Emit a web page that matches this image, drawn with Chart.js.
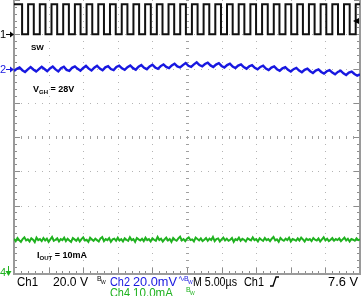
<!DOCTYPE html>
<html>
<head>
<meta charset="utf-8">
<script src="https://cdn.jsdelivr.net/npm/chart.js@4.4.0/dist/chart.umd.min.js"></script>
<style>
html, body { margin: 0; padding: 0; background: #fff; }
#wrap { width: 362px; height: 296px; }
</style>
</head>
<body>
<div id="wrap"><canvas id="scope" width="362" height="296"></canvas></div>
<script>
// ---- scope settings ----
const US_PER_DIV = 5;          // M 5.00us
const CH1_V_PER_DIV = 20;      // Ch1 20.0 V
const CH2_MV_PER_DIV = 20;     // Ch2 20.0mV (AC)
const CH4_MA_PER_DIV = 10;     // Ch4 10.0mA
const CH1_OFFSET = 3;          // ground markers, in divisions
const CH2_OFFSET = 2;
const CH4_OFFSET = -4;
const CH2_SAMPLE_US = 0.4;
const CH4_SAMPLE_US = 0.25;

// Ch1 - SW node edges (us) and levels (V)
const swFall = [1.17, 2.86, 4.55, 6.24, 7.93, 9.62, 11.31, 13.00, 14.70, 16.39, 18.08, 19.77, 21.46, 23.15, 24.84,
  26.53, 28.22, 29.91, 31.60, 33.29, 34.98, 36.67, 38.36, 40.06, 41.75, 43.44, 45.13, 46.82, 48.51];
const swRise = [2.04, 3.73, 5.42, 7.11, 8.80, 10.49, 12.18, 13.87, 15.57, 17.26, 18.95, 20.64, 22.33, 24.02, 25.71,
  27.40, 29.09, 30.78, 32.47, 34.16, 35.85, 37.54, 39.23, 40.93, 42.62, 44.31, 46.00, 47.69, 49.38];
const swLow = 0;
const swHigh = 17.5;

// Ch2 - VGH ripple (mV), one value every CH2_SAMPLE_US
const vghRipple = [
  -1.5, -0.2, 0.6, -1.0, -2.0, -0.5, 0.8, -0.6, -1.8, -0.4,
  1.0, -0.3, -1.6, 0.0, 1.1, -0.5, -1.7, 0.2, 1.0, -0.8,
  -1.4, 0.4, 1.2, -0.2, -1.3, 0.3, 1.5, -0.1, -1.2, 0.5,
  1.6, 0.0, -1.0, 0.7, 1.4, -0.3, -0.9, 0.9, 1.7, 0.1,
  -0.8, 0.8, 1.8, 0.2, -0.7, 1.0, 2.0, 0.4, -0.4, 1.2,
  2.2, 0.6, -0.2, 1.4, 2.4, 0.9, 0.2, 1.8, 2.8, 1.2,
  0.6, 2.0, 3.2, 1.6, 1.0, 2.4, 3.6, 2.0, 1.2, 2.6,
  3.4, 1.8, 0.9, 2.3, 3.1, 1.5, 0.6, 2.0, 2.8, 1.1,
  0.3, 1.7, 2.4, 0.8, -0.1, 1.3, 2.0, 0.4, -0.5, 0.9,
  1.6, 0.0, -0.9, 0.5, 1.2, -0.4, -1.3, 0.1, 0.8, -0.8,
  -1.8, -0.4, 0.3, -1.2, -2.2, -0.8, -0.1, -1.6, -2.6, -1.2,
  -0.5, -2.0, -3.0, -1.6, -0.9, -2.4, -3.4, -2.0, -1.3, -2.8,
  -3.8, -2.4, -1.8, -3.2, -4.2, -3.4
];

// Ch4 - output current (mA), one value every CH4_SAMPLE_US
const ioutCurrent = [
  10.3, 9.6, 10.5, 9.9, 9.4, 10.2, 10.7, 9.8, 10.1, 9.5,
  10.4, 10.0, 9.3, 10.6, 9.9, 10.2, 9.6, 10.5, 9.8, 10.3,
  9.4, 10.1, 10.8, 9.7, 10.0, 10.4, 9.5, 10.2, 9.9, 10.6,
  9.6, 10.3, 9.8, 9.4, 10.5, 10.1, 9.7, 10.4, 9.5, 10.2,
  10.7, 9.8, 10.0, 9.4, 10.6, 10.1, 9.7, 10.3, 9.9, 9.5,
  10.4, 10.8, 9.6, 10.2, 9.9, 10.5, 9.4, 10.1, 10.3, 9.7,
  10.6, 9.8, 10.2, 9.5, 10.4, 10.0, 9.7, 10.7, 9.9, 10.2,
  9.4, 10.5, 10.1, 9.8, 10.3, 9.6, 10.6, 9.9, 10.2, 9.5,
  10.4, 10.0, 9.7, 10.8, 9.9, 10.3, 9.5, 10.1, 10.6, 9.8,
  10.2, 9.4, 10.5, 10.0, 9.7, 10.4, 10.9, 9.8, 10.2, 9.6,
  10.3, 10.7, 9.9, 10.1, 9.5, 10.6, 10.2, 9.8, 10.4, 9.6,
  10.0, 10.5, 9.7, 10.3, 9.9, 10.8, 9.6, 10.2, 10.4, 9.5,
  10.1, 10.6, 9.8, 10.3, 9.7, 10.0, 10.5, 9.4, 10.2, 9.9,
  10.6, 9.7, 10.3, 10.0, 9.5, 10.4, 10.1, 9.8, 10.7, 9.9,
  10.2, 9.5, 10.4, 10.0, 9.7, 10.5, 9.9, 10.2, 9.6, 10.3,
  10.8, 9.8, 10.1, 9.4, 10.5, 10.0, 9.7, 10.3, 9.9, 10.6,
  9.5, 10.2, 10.0, 9.7, 10.4, 9.8, 10.6, 10.1, 9.5, 10.3,
  9.9, 10.2, 9.6, 10.5, 10.0, 9.8, 10.4, 9.5, 10.1, 10.7,
  9.8, 10.3, 9.6, 10.0, 10.5, 9.7, 10.2, 9.9, 10.4, 9.6,
  10.1, 10.6, 9.8, 10.3, 9.5, 10.2, 10.0, 9.7, 10.4, 9.9,
  10.1
];

const BLUE = '#1818e0';
const GREEN = '#1fb21f';

// build traces in screen divisions
function swPoints() {
  const hi = CH1_OFFSET + swHigh / CH1_V_PER_DIV;
  const lo = CH1_OFFSET + swLow / CH1_V_PER_DIV;
  const pts = [{ x: 0, y: hi }];
  swFall.forEach((t, i) => {
    pts.push({ x: t, y: hi }, { x: t, y: lo });
    pts.push({ x: swRise[i], y: lo }, { x: swRise[i], y: hi });
  });
  pts.push({ x: 10 * US_PER_DIV, y: hi });
  return pts;
}
const sampled = (vals, step, perDiv, offset) =>
  vals.map((v, i) => ({ x: i * step, y: offset + v / perDiv }));

// graticule: dotted divisions, border ticks, centre cross
const graticule = {
  id: 'graticule',
  beforeDatasetsDraw(chart) {
    const { ctx, chartArea: a, scales: { x, y } } = chart;
    const X = v => Math.round(x.getPixelForValue(v));
    const Y = v => Math.round(y.getPixelForValue(v));
    ctx.save();
    ctx.fillStyle = '#b4b4b4';
    for (let d = 1; d < 10; d++) {
      for (let m = -20; m <= 20; m++) ctx.fillRect(X(d * US_PER_DIV), Y(m / 5), 1, 1);
    }
    for (let d = -3; d <= 3; d++) {
      for (let m = 0; m <= 50; m++) ctx.fillRect(X(m * US_PER_DIV / 5), Y(d), 1, 1);
    }
    ctx.fillStyle = '#a0a0a0';
    for (let m = -20; m <= 20; m++) ctx.fillRect(X(25) - 1, Y(m / 5), 3, 1);
    for (let m = 0; m <= 50; m++) ctx.fillRect(X(m), Y(0) - 1, 1, 3);
    ctx.fillStyle = '#8c8c8c';
    for (let m = -20; m <= 20; m++) {
      const len = m % 5 === 0 ? 6 : 3;
      ctx.fillRect(a.left, Y(m / 5), len, 1);
      ctx.fillRect(a.right - len, Y(m / 5), len, 1);
    }
    for (let m = 0; m <= 50; m++) {
      const len = m % 5 === 0 ? 6 : 3;
      ctx.fillRect(X(m * US_PER_DIV / 5), a.bottom - len, 1, len);
    }
    ctx.fillStyle = '#9a9a9a';
    ctx.fillRect(a.left - 1, a.top, 2, a.bottom - a.top + 1);
    ctx.fillRect(a.right - 1, a.top, 2, a.bottom - a.top + 1);
    ctx.fillRect(a.left - 1, a.bottom - 1, a.right - a.left + 2, 2);
    ctx.restore();
  }
};

function subText(ctx, x, y, main, sub, rest, size) {
  ctx.font = 'bold ' + size + 'px "Liberation Sans"';
  ctx.fillText(main, x, y);
  x += ctx.measureText(main).width;
  ctx.font = 'bold ' + Math.round(size * 0.7) + 'px "Liberation Sans"';
  ctx.fillText(sub, x, y + 2);
  x += ctx.measureText(sub).width;
  ctx.font = 'bold ' + size + 'px "Liberation Sans"';
  ctx.fillText(rest, x, y);
}

function arrowRight(ctx, x, y, color) {
  ctx.strokeStyle = color; ctx.fillStyle = color; ctx.lineWidth = 1;
  ctx.beginPath(); ctx.moveTo(x, y + 0.5); ctx.lineTo(x + 6, y + 0.5); ctx.stroke();
  ctx.beginPath(); ctx.moveTo(x + 8, y + 0.5); ctx.lineTo(x + 4, y - 2.5); ctx.lineTo(x + 4, y + 3.5); ctx.fill();
}

// small "BW" bandwidth-limit glyph
function bwGlyph(ctx, x, y, color) {
  ctx.fillStyle = color;
  ctx.font = '7px "Liberation Sans"'; ctx.fillText('B', x, y);
  ctx.font = '5px "Liberation Sans"'; ctx.fillText('W', x + 4, y + 3);
}

const annotations = {
  id: 'annotations',
  afterDraw(chart) {
    const { ctx, chartArea: a, scales: { y } } = chart;
    ctx.save();
    ctx.textBaseline = 'alphabetic';
    // channel markers
    ctx.font = '11px "Liberation Sans"';
    ctx.fillStyle = '#000';
    const y1 = Math.round(y.getPixelForValue(CH1_OFFSET));
    ctx.fillText('1', 0, y1 + 4);
    arrowRight(ctx, 6, y1, '#000');
    const y2 = Math.round(y.getPixelForValue(CH2_OFFSET));
    ctx.fillStyle = BLUE;
    ctx.fillText('2', 0, y2 + 4);
    arrowRight(ctx, 6, y2, BLUE);
    ctx.fillStyle = GREEN;
    ctx.fillText('4', 0, 276);
    ctx.strokeStyle = GREEN;
    ctx.beginPath(); ctx.moveTo(8.5, 266); ctx.lineTo(8.5, 273); ctx.stroke();
    ctx.beginPath(); ctx.moveTo(8.5, 276); ctx.lineTo(5.5, 271); ctx.lineTo(11.5, 271); ctx.fill();
    // trigger level marker on the right edge
    const yt = Math.round(y.getPixelForValue(CH1_OFFSET + 7.6 / CH1_V_PER_DIV));
    ctx.fillStyle = '#000';
    ctx.beginPath(); ctx.moveTo(a.right - 7, yt); ctx.lineTo(a.right - 1, yt - 3); ctx.lineTo(a.right - 1, yt + 3); ctx.fill();

    // trace labels
    ctx.fillStyle = '#000';
    ctx.font = 'bold 8px "Liberation Sans"';
    ctx.fillText('SW', 31, 50);
    subText(ctx, 33, 92, 'V', 'GH', ' = 28V', 9);
    subText(ctx, 37, 258, 'I', 'OUT', ' = 10mA', 9);

    // readout, squeezed to the widths on the scope screen
    ctx.font = '13px "Liberation Sans"';
    const put = (t, x, yb, w, c) => { ctx.fillStyle = c; ctx.fillText(t, x, yb, w); };
    put('Ch1', 17, 286, 21, '#000');
    put('20.0 V', 53, 286, 35, '#000');
    put('M 5.00\u00b5s', 193, 286, 44, '#000');
    put('Ch1', 244, 286, 20, '#000');
    put('7.6 V', 328, 286, 30, '#000');
    put('Ch2', 110, 286, 20, BLUE);
    put('20.0mV', 133, 286, 44, BLUE);
    put('Ch4', 110, 297, 20, GREEN);
    put('10.0mA', 133, 297, 40, GREEN);
    // trigger slope symbol
    ctx.lineWidth = 1.3;
    ctx.strokeStyle = '#000';
    ctx.beginPath(); ctx.moveTo(270, 286); ctx.lineTo(273, 286); ctx.lineTo(276, 277); ctx.lineTo(279, 277); ctx.stroke();
    // coupling / bandwidth glyphs
    bwGlyph(ctx, 97, 281, '#000');
    ctx.fillStyle = BLUE;
    ctx.font = '8px "Liberation Sans"'; ctx.fillText('\u223f', 178, 281);
    bwGlyph(ctx, 184, 281, BLUE);
    bwGlyph(ctx, 186, 292, GREEN);
    ctx.restore();
  }
};

new Chart(document.getElementById('scope'), {
  type: 'line',
  data: {
    datasets: [
      { label: 'SW', data: swPoints(), borderColor: '#111', borderWidth: 2 },
      { label: 'VGH', data: sampled(vghRipple, CH2_SAMPLE_US, CH2_MV_PER_DIV, CH2_OFFSET), borderColor: BLUE, borderWidth: 2.4 },
      { label: 'IOUT', data: sampled(ioutCurrent, CH4_SAMPLE_US, CH4_MA_PER_DIV, CH4_OFFSET), borderColor: GREEN, borderWidth: 2 }
    ]
  },
  options: {
    responsive: false,
    animation: false,
    devicePixelRatio: 1,
    layout: { padding: { left: 14, right: 2, top: 0, bottom: 22 } },
    elements: { point: { radius: 0 }, line: { tension: 0 } },
    plugins: { legend: { display: false }, tooltip: { enabled: false } },
    scales: {
      x: { type: 'linear', min: 0, max: 10 * US_PER_DIV, display: false },
      y: { type: 'linear', min: -4, max: 4, display: false }
    }
  },
  plugins: [graticule, annotations]
});
</script>
</body>
</html>
